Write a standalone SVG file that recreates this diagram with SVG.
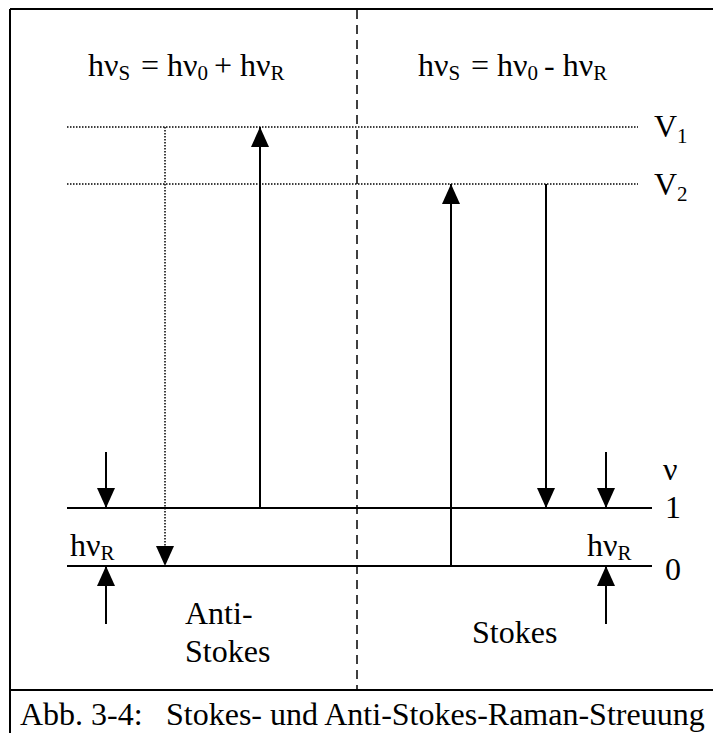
<svg xmlns="http://www.w3.org/2000/svg" width="713" height="733" viewBox="0 0 713 733">
<defs>
<marker id="ah" viewBox="0 0 20 20" refX="20" refY="10" markerWidth="20" markerHeight="20" markerUnits="userSpaceOnUse" orient="auto">
<path d="M0,1 L20,10 L0,19 z" fill="#000"/>
</marker>
</defs>
<rect width="713" height="733" fill="#fff"/>
<g id="frame" stroke="#000" stroke-width="2" fill="none">
<line x1="10" y1="9" x2="713" y2="9"/>
<line x1="10" y1="9" x2="10" y2="733"/>
<line x1="10" y1="690" x2="713" y2="690"/>
<line x1="357" y1="10" x2="357" y2="690" stroke-width="1.5" stroke-dasharray="9 6"/>
</g>
<g id="levels" stroke="#000" fill="none">
<line x1="67" y1="127" x2="638" y2="127" stroke-width="1.5" stroke-dasharray="1.5 1.5"/>
<line x1="67" y1="184" x2="638" y2="184" stroke-width="1.5" stroke-dasharray="1.5 1.5"/>
<line x1="67" y1="508" x2="652" y2="508" stroke-width="2"/>
<line x1="67" y1="566" x2="652" y2="566" stroke-width="2"/>
</g>
<g id="connectors" stroke="#000" stroke-width="2" fill="none">
<line x1="165" y1="127" x2="165" y2="566" stroke-width="1.5" stroke-dasharray="1.5 1.5" marker-end="url(#ah)"/>
<line x1="260" y1="508" x2="260" y2="127" marker-end="url(#ah)"/>
<line x1="451" y1="566" x2="451" y2="184" marker-end="url(#ah)"/>
<line x1="546" y1="184" x2="546" y2="508" marker-end="url(#ah)"/>
<line x1="106" y1="452" x2="106" y2="508" marker-end="url(#ah)"/>
<line x1="106" y1="624" x2="106" y2="566" marker-end="url(#ah)"/>
<line x1="606" y1="452" x2="606" y2="508" marker-end="url(#ah)"/>
<line x1="606" y1="624" x2="606" y2="566" marker-end="url(#ah)"/>
</g>
<g id="labels" font-family="'Liberation Serif', 'Times New Roman', serif" font-size="32" fill="#000">
<text x="88" y="76">hν<tspan font-size="21" dy="4">S</tspan><tspan x="141" dy="-4">= hν</tspan><tspan font-size="21" dy="4">0</tspan><tspan x="214" dy="-4">+ hν</tspan><tspan font-size="21" dy="4">R</tspan></text>
<text x="418" y="76">hν<tspan font-size="21" dy="4">S</tspan><tspan x="471" dy="-4">= hν</tspan><tspan font-size="21" dy="4">0</tspan><tspan x="544" dy="-4">- hν</tspan><tspan font-size="21" dy="4">R</tspan></text>
<text x="654" y="137">V<tspan font-size="21" dy="6">1</tspan></text>
<text x="654" y="195">V<tspan font-size="21" dy="6">2</tspan></text>
<text x="663" y="480">ν</text>
<text x="665" y="518">1</text>
<text x="665" y="580">0</text>
<text x="70" y="556">hν<tspan font-size="21" dy="4">R</tspan></text>
<text x="587" y="556">hν<tspan font-size="21" dy="4">R</tspan></text>
<text x="185" y="624">Anti-</text>
<text x="185" y="662">Stokes</text>
<text x="472" y="643">Stokes</text>
<text x="20" y="725">Abb. 3-4:<tspan x="166">Stokes- und Anti-Stokes-Raman-Streuung</tspan></text>
</g>
</svg>
